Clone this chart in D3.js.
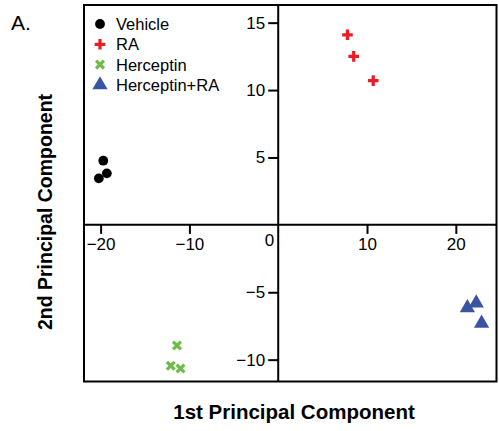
<!DOCTYPE html>
<html>
<head>
<meta charset="utf-8">
<script src="https://cdn.jsdelivr.net/npm/d3@7"></script>
<style>
  html, body { margin: 0; padding: 0; background: #fff; }
  svg { display: block; font-family: "Liberation Sans", Arial, sans-serif; }
</style>
</head>
<body>
<svg id="chart" width="499" height="431"></svg>
<script>
// PCA scores for each treatment group (PC1, PC2)
const groups = ["Vehicle", "RA", "Herceptin", "Herceptin+RA"];
const vehiclePC1 = [-19.7, -19.3, -20.2];
const vehiclePC2 = [4.76, 3.82, 3.45];
const raPC1 = [7.8, 8.5, 10.7];
const raPC2 = [14.1, 12.5, 10.7];
const hercPC1 = [-11.4, -12.1, -11.0];
const hercPC2 = [-8.95, -10.45, -10.65];
const hercRaPC1 = [21.3, 22.3, 22.9];
const hercRaPC2 = [-6.15, -5.8, -7.3];
const xTickValues = [-20, -10, 10, 20];
const yTickValues = [-10, -5, 5, 10, 15];

const colors = { "Vehicle": "#000000", "RA": "#ed1c24", "Herceptin": "#6cbd45", "Herceptin+RA": "#3a54a4" };
const shapes = { "Vehicle": "circle", "RA": "plus", "Herceptin": "cross", "Herceptin+RA": "triangle" };

const series = [
  { name: "Vehicle", xs: vehiclePC1, ys: vehiclePC2 },
  { name: "RA", xs: raPC1, ys: raPC2 },
  { name: "Herceptin", xs: hercPC1, ys: hercPC2 },
  { name: "Herceptin+RA", xs: hercRaPC1, ys: hercRaPC2 }
];

const svg = d3.select("#chart");
const box = { left: 84, right: 496.5, top: 5, bottom: 381.5 };

const x = d3.scaleLinear().domain([-21.87, 24.58]).range([box.left, box.right]);
const y = d3.scaleLinear().domain([-11.62, 16.31]).range([box.bottom, box.top]);

// Plot frame
svg.append("rect")
  .attr("x", box.left).attr("y", box.top)
  .attr("width", box.right - box.left).attr("height", box.bottom - box.top)
  .attr("fill", "none").attr("stroke", "#000").attr("stroke-width", 2);

const fmt = d => d3.format("d")(d).replace("-", "\u2212");

// Horizontal axis through y = 0
const gx = svg.append("g")
  .attr("transform", `translate(0,${y(0)})`)
  .call(d3.axisBottom(x).tickValues(xTickValues).tickSize(9).tickPadding(4).tickFormat(fmt));
gx.select(".domain").remove();
svg.append("line")
  .attr("x1", box.left).attr("x2", box.right)
  .attr("y1", y(0)).attr("y2", y(0))
  .attr("stroke", "#000").attr("stroke-width", 2);

// Vertical axis through x = 0
const gy = svg.append("g")
  .attr("transform", `translate(${x(0)},0)`)
  .call(d3.axisLeft(y).tickValues(yTickValues).tickSize(10).tickPadding(3).tickFormat(fmt));
gy.select(".domain").remove();
svg.append("line")
  .attr("x1", x(0)).attr("x2", x(0))
  .attr("y1", box.top).attr("y2", box.bottom)
  .attr("stroke", "#000").attr("stroke-width", 2);

[gx, gy].forEach(g => {
  g.selectAll(".tick line").attr("stroke", "#000").attr("stroke-width", 2);
  g.selectAll(".tick text").attr("fill", "#000")
    .style("font-size", "17px").style("font-family", "'Liberation Sans', Arial, sans-serif");
});

// Origin label
svg.append("text")
  .attr("x", x(0) - 4).attr("y", y(0) + 21)
  .attr("text-anchor", "end")
  .style("font-size", "17px")
  .text("0");

// Marker drawing
function drawMarker(g, shape, color, cx, cy) {
  if (shape === "circle") {
    g.append("circle").attr("cx", cx).attr("cy", cy).attr("r", 4.9).attr("fill", color);
  } else if (shape === "plus") {
    const a = 5.3;
    g.append("path")
      .attr("d", `M${cx - a},${cy}H${cx + a}M${cx},${cy - a}V${cy + a}`)
      .attr("stroke", color).attr("stroke-width", 3.2).attr("fill", "none");
  } else if (shape === "cross") {
    const a = 3.9;
    g.append("path")
      .attr("d", `M${cx - a},${cy - a}L${cx + a},${cy + a}M${cx - a},${cy + a}L${cx + a},${cy - a}`)
      .attr("stroke", color).attr("stroke-width", 3.2).attr("fill", "none");
  } else if (shape === "triangle") {
    g.append("path")
      .attr("transform", `translate(${cx},${cy})`)
      .attr("d", d3.symbol().type(d3.symbolTriangle).size(100)())
      .attr("fill", color);
  }
}

const pts = svg.append("g");
series.forEach(s => {
  s.xs.forEach((v, i) => drawMarker(pts, shapes[s.name], colors[s.name], x(v), y(s.ys[i])));
});

// Legend
const legend = svg.append("g");
groups.forEach((name, i) => {
  const ly = 24 + i * 20.3;
  drawMarker(legend, shapes[name], colors[name], 100, ly);
  legend.append("text")
    .attr("x", 116).attr("y", ly).attr("dy", "0.36em")
    .style("font-size", "16.5px")
    .text(name);
});

// Axis titles
svg.append("text")
  .attr("x", 294).attr("y", 419)
  .attr("text-anchor", "middle")
  .style("font-size", "20.5px").style("font-weight", "bold")
  .text("1st Principal Component");

svg.append("text")
  .attr("transform", `translate(52,212) rotate(-90)`)
  .attr("text-anchor", "middle")
  .style("font-size", "19.5px").style("font-weight", "bold")
  .text("2nd Principal Component");

// Panel letter
svg.append("text")
  .attr("x", 11).attr("y", 30)
  .style("font-size", "21px")
  .text("A.");
</script>
</body>
</html>
